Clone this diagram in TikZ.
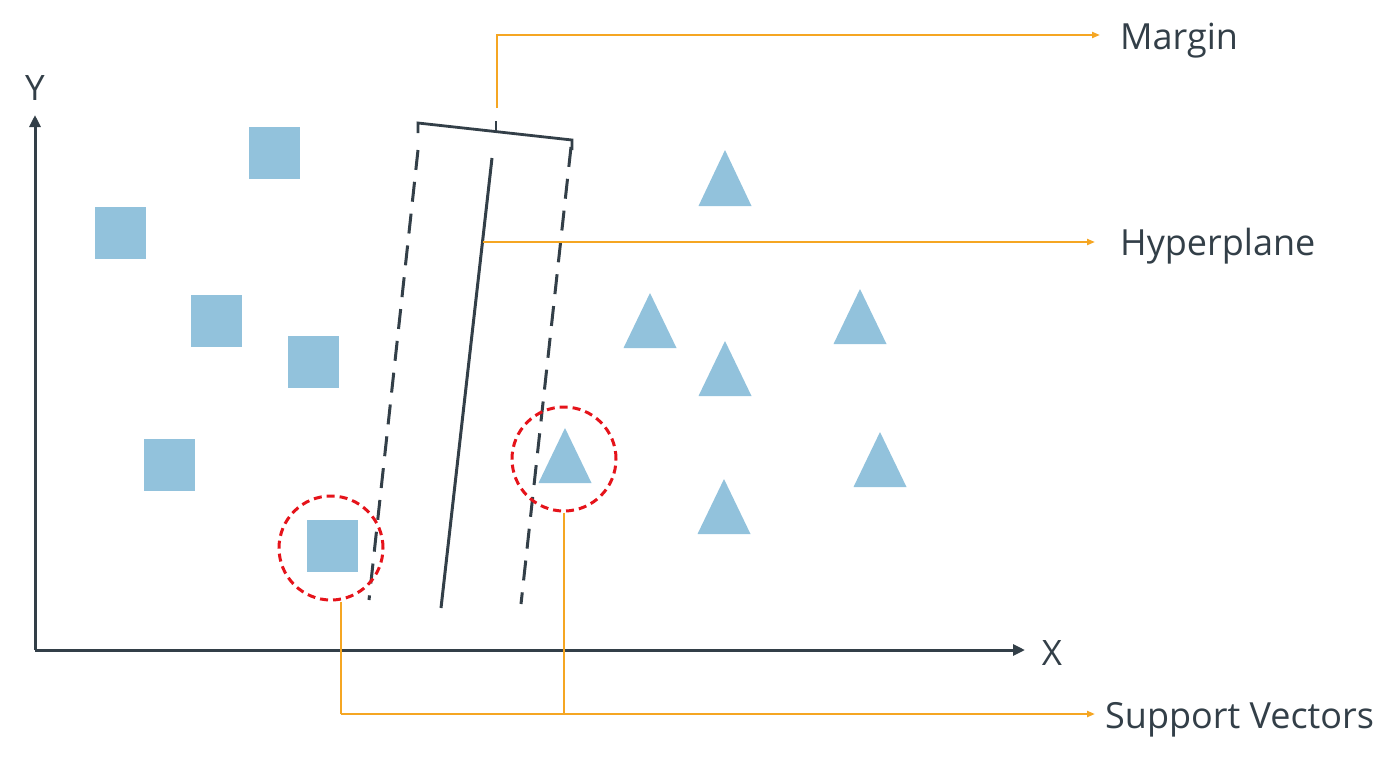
\documentclass[tikz,border=0pt]{standalone}
\usepackage{fontspec}
\setmainfont{Open Sans}
\usetikzlibrary{arrows.meta}
\definecolor{ink}{HTML}{333F48}
\definecolor{ptblue}{HTML}{92C2DC}
\definecolor{lineor}{HTML}{F5A623}
\definecolor{svred}{HTML}{E5131A}
\tikzset{
  axis/.style={draw=ink, line width=3pt, -{Triangle[length=12pt,width=11pt]}},
  sq/.style={rectangle, fill=ptblue, minimum width=51pt, minimum height=52pt, inner sep=0pt},
  tri/.style={fill=ptblue},
  marg/.style={draw=ink, line width=3pt, dash pattern=on 20pt off 12pt},
  hyp/.style={draw=ink, line width=3pt},
  brack/.style={draw=ink, line width=2.8pt},
  callout/.style={draw=lineor, line width=2pt, -{Triangle[length=8pt,width=6pt]}},
  callplain/.style={draw=lineor, line width=2pt},
  svc/.style={circle, draw=svred, line width=3pt, dash pattern=on 8pt off 5pt, minimum size=104pt, inner sep=0pt},
  lab/.style={text=ink, font=\fontsize{36}{40}\selectfont, inner sep=0pt, anchor=west},
  axlab/.style={text=ink, font=\fontsize{35}{38}\selectfont, inner sep=0pt}
}
\begin{document}
\begin{tikzpicture}[x=1pt,y=-1pt]
\useasboundingbox (0,0) rectangle (1400,761);
% axes
\coordinate (O) at (35,650);
\coordinate (Yend) at (35,115);
\coordinate (Xend) at (1025,650);
\draw[axis] (O) -- (Yend);
\draw[axis] (O) -- (Xend);
\node[axlab] (ylab) at (35,88) {Y};
\node[axlab] (xlab) at (1052,653) {X};
% squares
\node[sq] (s1) at (274.5,153) {};
\node[sq] (s2) at (120.5,233) {};
\node[sq] (s3) at (216.5,321) {};
\node[sq] (s4) at (313.5,362) {};
\node[sq] (s5) at (169.5,465) {};
\node[sq] (s6) at (332.5,546) {};
% triangles
\fill[tri] (725,150) -- ++(26.5,56) -- ++(-53,0) -- cycle;
\fill[tri] (650,293) -- ++(26.5,55) -- ++(-53,0) -- cycle;
\fill[tri] (860,289) -- ++(26.5,55) -- ++(-53,0) -- cycle;
\fill[tri] (725,341) -- ++(26.5,55) -- ++(-53,0) -- cycle;
\fill[tri] (565,428) -- ++(26.5,55) -- ++(-53,0) -- cycle;
\fill[tri] (880,432) -- ++(26.5,55) -- ++(-53,0) -- cycle;
\fill[tri] (724,479) -- ++(26.5,55) -- ++(-53,0) -- cycle;
% margins and hyperplane
\coordinate (mlt) at (418,150);
\coordinate (mlb) at (369,600);
\coordinate (mrt) at (571,147);
\coordinate (mrb) at (521,604);
\coordinate (ht) at (492,158);
\coordinate (hb) at (441,608);
\draw[marg] (mlt) -- (mlb);
\draw[marg] (mrt) -- (mrb);
\draw[hyp] (ht) -- (hb);
% bracket
\coordinate (bl) at (418,123);
\coordinate (br) at (572,140);
\coordinate (bm) at (496,131.5);
\coordinate (bmt) at (496,121);
\draw[brack] (418,133) -- (bl) -- (br) -- (572,150);
\draw[brack] (bm) -- (bmt);
% support vector circles
\node[svc] (sv1) at (331,548) {};
\node[svc] (sv2) at (564,459) {};
% labels
\node[lab] (mlab) at (1120,41) {Margin};
\node[lab] (hlab) at (1120,246) {Hyperplane};
\node[lab] (svlab) at (1105,720) {Support Vectors};
% callouts
\coordinate (mstart) at (497,108);
\coordinate (hstart) at (483,242);
\coordinate (mend) at (1100,35);
\coordinate (hend) at (1095,242);
\coordinate (svend) at (1095,714);
\draw[callout] (mstart) |- (mend);
\draw[callout] (hstart) -- (hend);
\coordinate (svy) at (341,714);
\draw[callplain] ([xshift=10pt]sv1.south) -- (svy);
\draw[callout] (svy) -- (svend);
\draw[callplain] (sv2.south) -- (sv2.south |- svy);
\end{tikzpicture}
\end{document}
